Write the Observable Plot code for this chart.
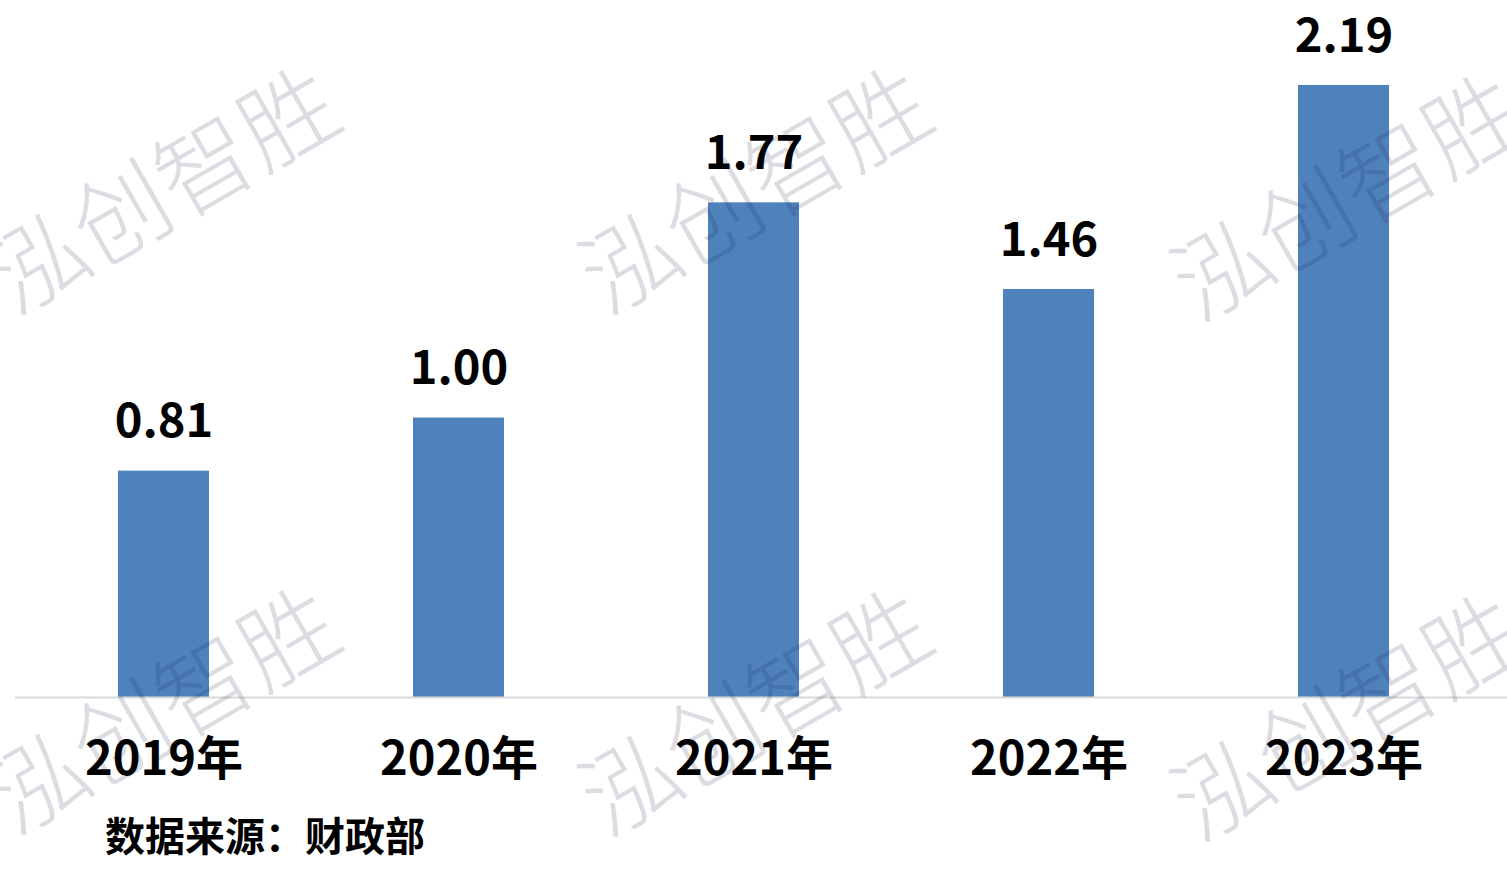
<!DOCTYPE html>
<html>
<head>
<meta charset="utf-8">
<script src="https://cdn.jsdelivr.net/npm/d3@7"></script>
<script src="https://cdn.jsdelivr.net/npm/@observablehq/plot@0.6"></script>
<style>
  html, body { margin: 0; padding: 0; background: #fff; }
  #wrap { position: relative; width: 1507px; height: 870px; overflow: hidden; font-family: "Noto Sans CJK SC", "Noto Sans", sans-serif; }
  #caption { position: absolute; left: 105px; top: 812px; font-size: 40px; line-height: 44px; font-weight: bold; color: #000; }
  .wm { position: absolute; font-size: 96px; font-weight: 300; color: #0a1a40; opacity: 0.14; white-space: nowrap; transform: translate(-50%, -50%) rotate(-30deg); pointer-events: none; line-height: 1; }
</style>
</head>
<body>
<div id="wrap"></div>
<script>
const years = ["2019年", "2020年", "2021年", "2022年", "2023年"];
const values = [0.81, 1.00, 1.77, 1.46, 2.19];
const caption = "数据来源：财政部";
const watermark = "泓创智胜";

const data = years.map((y, i) => ({year: y, value: values[i]}));

const chart = Plot.plot({
  width: 1507,
  height: 800,
  marginLeft: 15,
  marginRight: 0,
  marginTop: 0,
  marginBottom: 103,
  style: {fontFamily: '"Noto Sans CJK SC", "Noto Sans", sans-serif', background: "#fff", color: "#000"},
  x: {domain: years, range: [15, 1492], paddingInner: 0.69, paddingOuter: 0.345, label: null},
  y: {domain: [0, 2.494], axis: null},
  marks: [
    Plot.barY(data, {x: "year", y: "value", fill: "#4F81BD"}),
    Plot.ruleY([0], {stroke: "#D9D9D9", strokeWidth: 2}),
    Plot.text(data, {x: "year", y: "value", text: d => d.value.toFixed(2), dy: -49, fontSize: 47, fontWeight: "bold", fill: "#000", lineAnchor: "middle"}),
    Plot.axisX({tickSize: 0, tickPadding: 44, fontSize: 47, fontWeight: "bold", fill: "#000", label: null})
  ]
});

const wrap = document.getElementById("wrap");
wrap.appendChild(chart);
const cap = document.createElement("div");
cap.id = "caption";
cap.textContent = caption;
wrap.appendChild(cap);

const wmPos = [[160,185],[752,185],[1344,192],[160,705],[752,707],[1344,712]];
for (const [x, y] of wmPos) {
  const d = document.createElement("div");
  d.className = "wm";
  d.style.left = x + "px";
  d.style.top = y + "px";
  d.textContent = watermark;
  wrap.appendChild(d);
}
</script>
</body>
</html>
